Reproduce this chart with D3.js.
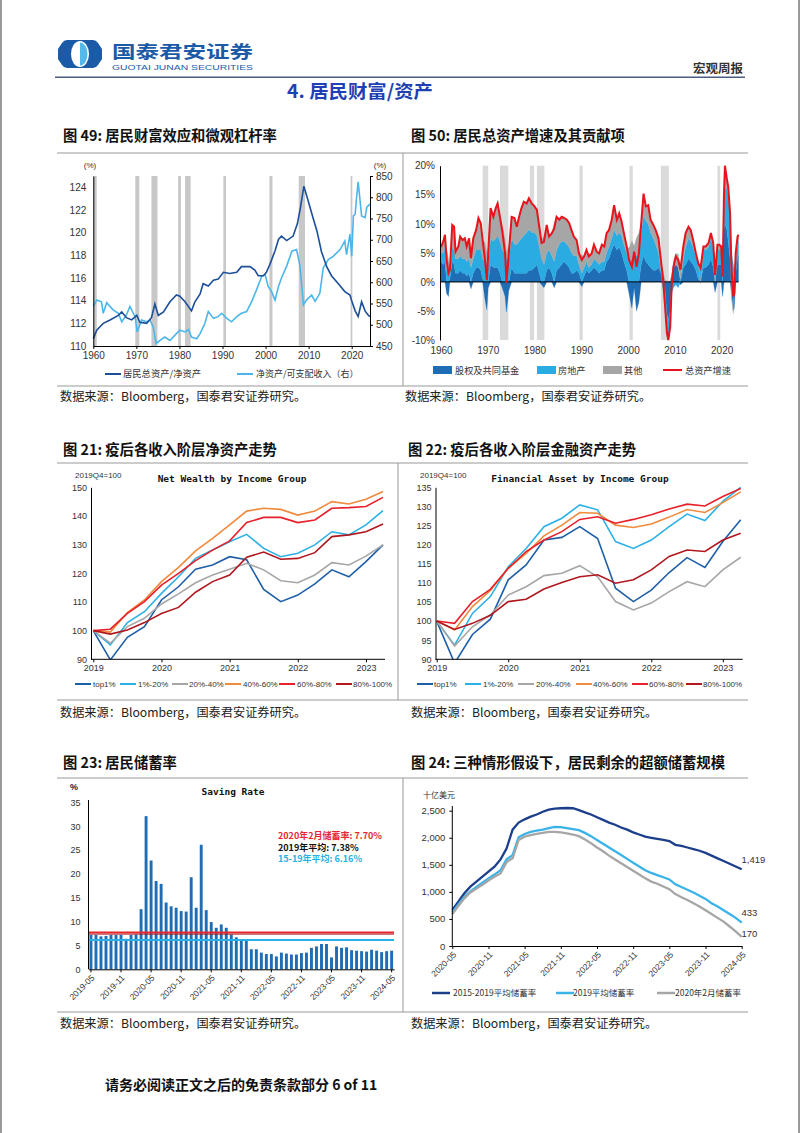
<!DOCTYPE html>
<html><head><meta charset="utf-8">
<script src="https://cdn.jsdelivr.net/npm/d3@7"></script>
<style>
body{margin:0;background:#fff;}
svg{display:block;}
</style></head><body>
<svg id="page" width="802" height="1133"></svg>
<script>
// ================= DATA =================
// Fig 49
const recess49 = [[1960.0,1960.8],[1969.75,1970.7],[1973.5,1974.9],[1979.7,1980.35],[1981.3,1982.6],[1990.2,1990.8],[2000.9,2001.6],[2007.7,2009.15],[2019.75,2020.15]];
const assetYears49 = [1960.0,1960.8,1962.3,1963.9,1965.8,1966.6,1967.7,1968.9,1970.1,1970.8,1972.4,1973.5,1974.3,1975.1,1976.3,1977.8,1979.3,1980.1,1981.3,1982.8,1983.6,1984.8,1985.5,1986.7,1987.9,1989.0,1990.2,1991.7,1993.3,1994.4,1996.4,1997.5,1998.3,1999.5,2000.2,2001.0,2002.2,2003.0,2003.7,2004.9,2006.4,2007.4,2008.1,2008.9,2009.9,2011.1,2011.9,2013.0,2014.2,2015.3,2016.9,2018.4,2019.6,2020.0,2020.8,2021.5,2022.3,2023.1,2023.9,2024.2];
const assetRatio49 = [110.65,111.4,112.0,112.3,112.7,113.0,112.5,112.3,112.7,112.1,112.0,112.5,113.7,112.7,113.0,113.9,114.5,114.4,113.9,113.1,113.9,114.6,115.5,115.3,115.8,115.9,116.5,116.4,116.5,117.0,117.0,116.7,116.2,116.2,116.5,117.2,118.4,119.4,119.7,119.3,119.7,120.8,122.2,124.1,122.8,121.2,120.2,118.3,117.0,116.2,115.5,114.8,114.5,114.0,113.1,112.6,113.9,113.1,112.7,112.6];
const incomeYears49 = [1960.0,1960.8,1961.9,1962.3,1963.1,1964.6,1965.8,1966.6,1967.7,1968.5,1969.7,1970.2,1971.2,1972.4,1973.2,1973.9,1974.6,1975.5,1976.6,1977.8,1979.3,1980.1,1981.3,1982.1,1982.8,1984.0,1984.8,1985.9,1986.7,1987.9,1989.0,1989.8,1991.0,1992.1,1993.3,1994.4,1995.6,1996.8,1997.9,1999.1,1999.9,2000.6,2001.4,2002.2,2003.0,2003.7,2004.9,2006.1,2007.2,2008.0,2008.8,2009.5,2010.7,2011.5,2012.6,2013.4,2014.6,2015.7,2017.3,2018.4,2018.8,2019.6,2020.0,2020.4,2020.8,2021.1,2021.5,2022.3,2023.1,2023.5,2024.2];
const wealthIncome49 = [543,558,554,527,552,535,527,507,523,543,519,483,511,507,511,495,456,463,471,463,479,487,483,489,471,467,479,503,531,515,519,527,515,507,519,527,531,555,582,614,618,590,578,558,590,610,638,673,677,638,547,558,570,555,574,634,654,661,677,697,665,713,661,756,760,796,836,756,752,776,784];
const ticksL49 = [110,112,114,116,118,120,122,124];
const ticksR49 = [450,500,550,600,650,700,750,800,850];
const ticksX49 = [1960,1970,1980,1990,2000,2010,2020];

// Fig 50
const recess50 = [[1968.9,1970.1],[1972.6,1974.4],[1979.0,1979.9],[1980.5,1982.1],[1989.6,1990.3],[2000.3,2001.0],[2007.0,2008.7],[2019.1,2019.7]];
const years50 = [1960.0,1960.5,1960.85,1961.2,1961.6,1961.9,1962.4,1962.8,1963.1,1963.7,
 1964.1,1964.6,1965.1,1965.5,1966.0,1966.4,1966.9,1967.5,1968.0,1968.5,
 1968.9,1969.4,1969.8,1970.1,1970.6,1971.2,1971.7,1972.1,1972.6,1973.1,
 1973.7,1974.0,1974.5,1975.1,1975.7,1976.2,1976.7,1977.2,1977.7,1978.3,
 1978.8,1979.4,1980.0,1980.5,1981.0,1981.5,1982.0,1982.6,1983.1,1983.7,
 1984.2,1984.7,1985.3,1985.8,1986.3,1986.9,1987.4,1987.9,1988.4,1989.0,
 1989.5,1990.1,1990.6,1991.1,1991.6,1992.2,1992.7,1993.3,1993.8,1994.4,
 1994.9,1995.4,1995.9,1996.5,1997.0,1997.6,1998.1,1998.6,1999.1,1999.7,
 2000.2,2000.8,2001.3,2001.8,2002.3,2002.8,2003.3,2003.8,2004.3,2004.8,
 2005.4,2005.9,2006.5,2007.0,2007.5,2007.9,2008.3,2008.6,2009.0,2009.3,
 2009.7,2010.2,2010.7,2011.2,2011.8,2012.3,2012.9,2013.4,2013.9,2014.5,
 2015.0,2015.5,2016.1,2016.6,2017.2,2017.7,2018.2,2018.6,2019.1,2019.5,
 2019.9,2020.2,2020.5,2020.7,2021.1,2021.4,2021.8,2022.1,2022.5,2022.7,
 2023.0,2023.4,2023.6];
const total50 = [6.0,7.0,8.1,3.8,1.5,2.1,9.8,9.5,5.2,6.1,
 7.8,7.2,7.5,6.1,7.5,4.1,7.5,8.9,11.0,10.1,
 7.2,3.8,0.3,4.9,12.7,11.2,12.7,13.5,11.2,8.7,
 4.9,-0.2,4.9,11.2,11.0,9.5,11.2,12.7,13.8,13.5,
 14.4,13.5,13.0,12.4,9.5,6.7,6.9,9.8,7.8,8.4,
 9.2,11.2,10.7,11.2,11.0,10.7,10.1,8.9,7.8,7.2,
 4.9,3.8,4.4,5.5,4.4,4.9,6.4,5.2,4.9,6.4,
 6.1,8.4,8.9,10.7,13.2,10.7,11.8,10.4,8.4,6.1,
 3.8,2.6,5.2,2.6,4.9,10.1,15.2,13.0,13.2,10.7,
 9.8,8.9,7.5,3.8,0.3,-4.2,-8.8,-10.0,-7.7,-0.8,
 2.6,4.4,3.8,2.1,6.1,8.4,9.5,8.9,7.2,4.9,
 3.2,2.4,6.1,6.1,6.7,8.4,6.7,1.2,6.4,6.4,
 6.1,0.9,15.2,20.0,17.8,16.4,11.8,2.1,-2.5,-2.0,
 4.9,7.8,8.1];
const equity50 = [3.5,3.0,3.5,-2.0,-2.5,0.5,3.5,3.0,1.5,1.5,
 2.0,1.5,1.5,1.0,1.5,-1.2,1.5,2.5,2.5,2.0,
 0.5,-3.0,-4.8,-1.0,3.0,2.5,2.5,2.5,1.5,-1.0,
 -2.5,-5.2,-1.5,2.5,1.5,1.5,1.5,1.5,1.5,1.5,
 2.0,2.0,2.5,3.0,1.5,-0.5,-1.0,2.0,2.5,1.5,
 -1.0,2.0,2.5,3.0,3.5,3.0,2.5,1.5,1.5,2.0,
 1.5,-0.8,1.0,2.0,1.5,2.0,2.5,2.0,1.5,2.0,
 2.0,3.5,4.0,5.5,6.5,5.5,6.0,5.0,3.5,2.0,
 -2.0,-4.5,-1.0,-5.0,-3.5,3.0,4.5,3.5,3.0,2.5,
 2.0,2.0,2.5,1.5,0.5,-1.5,-5.5,-6.5,-5.0,1.0,
 2.5,3.0,2.5,-0.5,2.5,3.0,4.0,3.5,3.0,2.0,
 0.5,0.2,2.5,2.5,3.0,4.0,2.5,-1.8,3.0,3.0,
 3.0,-2.5,9.0,10.0,9.0,7.0,4.0,-2.0,-5.0,-4.5,
 1.5,4.0,4.5];
const realEstate50 = [1.5,2.0,2.5,2.0,2.0,1.5,2.5,2.5,2.5,2.5,
 2.5,2.5,2.5,2.5,2.5,2.5,2.5,3.0,3.0,3.5,
 3.5,3.5,3.0,3.0,4.5,4.5,5.0,5.5,5.5,5.5,
 5.0,4.0,4.0,5.0,5.0,5.0,5.5,6.0,6.5,7.0,
 7.0,6.5,6.0,5.0,4.5,4.0,3.0,3.0,3.0,3.0,
 3.5,3.5,4.0,4.0,3.5,3.5,3.5,3.5,3.0,2.5,
 1.5,1.5,1.5,1.5,1.0,1.0,1.5,1.5,1.5,1.5,
 1.5,1.5,2.0,2.0,2.5,2.5,2.5,3.0,3.0,3.0,
 3.5,4.0,4.0,4.5,5.0,5.5,7.0,7.0,7.0,6.0,
 5.5,4.5,2.5,0.5,-1.5,-3.0,-3.5,-3.5,-3.0,-2.0,
 -1.0,-0.5,-1.0,0.5,1.5,3.0,3.5,3.5,3.0,2.5,
 2.5,2.5,3.0,3.0,3.0,3.5,3.5,3.0,2.5,2.5,
 2.5,2.5,4.0,6.0,7.0,8.0,7.0,5.0,3.0,2.0,
 2.0,2.5,2.5];
const ticksY50 = [-10,-5,0,5,10,15,20];
const ticksX50 = [1960,1970,1980,1990,2000,2010,2020];

// Fig 21 / 22 (quarterly, 2019Q4 = 100)
const groups = ['top1%','1%-20%','20%-40%','40%-60%','60%-80%','80%-100%'];
const yearTicksQ = ['2019','2020','2021','2022','2023'];
const nw_top1 = [100,89.8,97.7,101.4,110.7,115.3,121.4,122.9,125.8,124.7,114.4,110.1,112.4,116.3,121.2,118.8,124.1,129.9];
const nw_1_20 = [100,95.0,102.8,106.6,113.0,118.8,125.2,128.1,131.0,133.6,128.7,125.8,127.0,129.9,134.5,133.4,136.9,141.9];
const nw_20_40 = [100,95.6,101.4,104.3,109.3,112.8,116.7,119.4,121.4,123.5,121.2,117.4,116.7,119.4,123.7,122.9,126.0,129.9];
const nw_40_60 = [100,99.5,106.3,110.7,117.1,122.1,127.8,132.2,136.9,141.7,142.7,142.3,140.3,141.7,145.0,144.2,145.8,148.5];
const nw_60_80 = [100,100.5,106.0,110.1,115.9,120.0,124.4,128.1,131.3,137.7,139.5,139.5,137.7,138.6,142.7,142.9,143.3,146.5];
const nw_80_100 = [100,98.8,100.2,102.8,106.0,108.1,113.4,117.1,119.4,125.6,127.4,124.9,125.2,127.2,132.8,133.4,134.5,137.2];
const fa_top1 = [100,89.0,96.5,100.5,110.8,114.7,121.2,121.9,124.7,121.6,108.6,105.1,108.1,112.7,116.6,114.0,120.8,126.5];
const fa_1_20 = [100,93.7,102.0,106.4,114.2,119.0,124.7,126.9,130.4,129.1,120.8,119.0,121.2,124.7,128.0,126.3,131.3,135.0];
const fa_20_40 = [100,93.5,98.5,101.6,106.8,109.0,111.9,112.5,114.5,111.6,105.1,102.9,104.7,107.7,110.3,109.0,113.4,116.7];
const fa_40_60 = [100,97.7,103.8,108.0,113.8,117.7,122.3,125.1,128.4,128.2,125.1,124.5,125.4,127.2,129.2,128.4,131.0,133.8];
const fa_60_80 = [100,99.4,105.1,108.3,113.8,118.2,121.2,123.4,126.6,127.3,125.6,126.6,127.8,129.3,130.6,130.1,132.6,134.7];
const fa_80_100 = [100,97.8,99.4,101.5,105.1,105.7,108.4,110.1,111.6,112.1,109.9,110.8,113.4,116.9,118.6,118.2,121.2,123.0];

// Fig 23 saving rate, monthly 2019-05 .. 2024-05
const savingRate = [7.2,7.2,6.9,7.0,7.2,7.2,7.2,6.4,7.2,7.3,
 12.6,32.1,22.8,18.5,17.9,14.0,13.2,12.9,12.2,12.1,
 19.3,12.9,26.1,12.4,9.9,8.7,9.4,8.7,7.3,6.7,
 6.0,6.0,4.2,4.2,3.5,3.2,3.2,2.7,3.5,3.3,
 3.1,3.1,3.4,3.5,4.5,4.8,5.3,5.3,2.5,4.8,
 4.5,4.6,4.0,3.9,3.8,3.7,4.1,3.9,3.6,3.8,3.9];
const refLines23 = [7.70, 7.38, 6.16];
const refLabels23 = ['2020年2月储蓄率: 7.70%','2019年平均: 7.38%','15-19年平均: 6.16%'];

// Fig 24 excess savings (bn USD), monthly 2020-05 .. 2024-05
const ex_1519 = [665,819,973,1096,1188,1281,1373,1466,1600,1800,
 2150,2280,2340,2390,2430,2480,2520,2540,2545,2550,
 2545,2510,2470,2430,2380,2330,2280,2240,2190,2150,
 2100,2060,2020,2000,1980,1960,1940,1870,1850,1820,
 1790,1760,1720,1670,1620,1570,1520,1470,1419];
const ex_2019 = [620,770,910,1010,1090,1170,1250,1320,1400,1600,
 1680,2010,2070,2110,2130,2150,2180,2200,2195,2180,
 2160,2140,2090,2030,1960,1890,1820,1750,1680,1610,
 1540,1470,1400,1350,1310,1270,1230,1140,1090,1040,
 990,930,870,790,730,660,590,520,433];
const ex_202002 = [590,740,880,990,1060,1130,1210,1280,1340,1550,
 1620,1960,2020,2050,2070,2090,2110,2110,2100,2080,
 2060,2030,1970,1900,1820,1750,1670,1600,1530,1460,
 1390,1320,1250,1190,1150,1100,1050,960,900,850,
 790,730,660,590,520,450,360,270,170];
const endLabels24 = ['1,419','433','170'];

// ================= DRAWING =================
const FONT = '"Liberation Sans","Noto Sans CJK SC",sans-serif';
const CJK = '"Noto Sans CJK SC","Liberation Sans",sans-serif';
const MONO = '"DejaVu Sans Mono","Liberation Mono",monospace';
const svg = d3.select('#page');

function txt(g, x, y, s, o = {}) {
  const t = g.append('text').attr('x', x).attr('y', y).text(s)
    .attr('font-size', o.size || 10).attr('fill', o.fill || '#222')
    .attr('font-weight', o.weight || 'normal').attr('text-anchor', o.anchor || 'start')
    .attr('font-family', o.family || FONT);
  if (o.len) t.attr('textLength', o.len).attr('lengthAdjust', 'spacingAndGlyphs');
  if (o.ls) t.attr('letter-spacing', o.ls);
  return t;
}
function hline(g, x1, x2, y, c, w) { g.append('line').attr('x1', x1).attr('x2', x2).attr('y1', y).attr('y2', y).attr('stroke', c).attr('stroke-width', w || 1); }
function vline(g, x, y1, y2, c, w) { g.append('line').attr('x1', x).attr('x2', x).attr('y1', y1).attr('y2', y2).attr('stroke', c).attr('stroke-width', w || 1); }
function styleAxis(sel, size, color) {
  sel.attr('font-family', FONT).attr('font-size', size);
  sel.selectAll('text').attr('fill', color || '#333');
  sel.selectAll('path.domain').attr('stroke', '#000');
  sel.selectAll('.tick line').attr('stroke', '#000');
}

// ---- page frame & header ----
vline(svg, 1, 0, 1133, '#777', 1.5);
vline(svg, 799, 0, 1133, '#777', 1.5);
const logo = svg.append('g');
logo.append('path').attr('d', 'M67,40 H93 Q96,40 98,43 L102,49 V59 L98,65 Q96,68 93,68 H67 Q64,68 62,65 L58,59 V49 L62,43 Q64,40 67,40 Z').attr('fill', '#1b5aa7');
logo.append('ellipse').attr('cx', 80).attr('cy', 54).attr('rx', 9).attr('ry', 13).attr('fill', '#fff');
logo.append('path').attr('d', 'M80,42.5 A7.5,11.5 0 0,1 80,65.5 Z').attr('fill', '#55b8ea');
txt(svg, 112, 57.5, '国泰君安证券', { size: 17.5, weight: 700, fill: '#1b5aa7', family: CJK, len: 141 });
txt(svg, 112, 69.5, 'GUOTAI JUNAN SECURITIES', { size: 7.2, fill: '#1b5aa7', len: 141 });
txt(svg, 693, 73, '宏观周报', { size: 12, weight: 700, fill: '#333', family: CJK, len: 50 });
hline(svg, 55, 745, 77.3, '#4a5d85', 1.5);
txt(svg, 287, 98, '4.  居民财富/资产', { size: 18.5, weight: 700, fill: '#1f3fb5', family: CJK, len: 146 });

// ---- panel frames ----
[[153, 386], [463, 700], [778, 1012]].forEach(([a, b]) => { hline(svg, 57, 748, a, '#999'); hline(svg, 57, 748, b, '#999'); });
vline(svg, 403, 153, 386, '#999');
vline(svg, 398, 463, 700, '#999');
vline(svg, 403, 778, 1012, '#999');
const titles = [
  [63, 141, '图 49: 居民财富效应和微观杠杆率'], [411, 141, '图 50: 居民总资产增速及其贡献项'],
  [63, 455, '图 21: 疫后各收入阶层净资产走势'], [408, 455, '图 22: 疫后各收入阶层金融资产走势'],
  [63, 768, '图 23: 居民储蓄率'], [411, 768, '图 24: 三种情形假设下，居民剩余的超额储蓄规模']];
titles.forEach(([x, y, s]) => txt(svg, x, y, s, { size: 14.3, weight: 700, fill: '#111', family: CJK }));
const src = '数据来源：Bloomberg，国泰君安证券研究。';
[[60, 401], [405, 401], [60, 717], [411, 717], [60, 1028], [411, 1028]].forEach(([x, y]) => txt(svg, x, y, src, { size: 12.2, fill: '#222', family: CJK }));
txt(svg, 105, 1090, '请务必阅读正文之后的免责条款部分 6 of 11', { size: 14, weight: 700, fill: '#111', family: CJK });

// ================= Fig 49 =================
(function () {
  const g = svg.append('g');
  const x = d3.scaleLinear().domain([1960, 2024.25]).range([93.3, 370]);
  const yL = d3.scaleLinear().domain([110, 125]).range([346, 176]);
  const yR = d3.scaleLinear().domain([450, 850]).range([346, 176]);
  g.selectAll('rect.rec').data(recess49).join('rect').attr('class', 'rec')
    .attr('x', d => x(d[0])).attr('width', d => x(d[1]) - x(d[0]))
    .attr('y', 176).attr('height', 170).attr('fill', '#c8c8c8');
  g.append('path').attr('d', d3.line().x((d, i) => x(incomeYears49[i])).y(d => yR(d))(wealthIncome49))
    .attr('fill', 'none').attr('stroke', '#4cb6ea').attr('stroke-width', 1.6);
  g.append('path').attr('d', d3.line().x((d, i) => x(assetYears49[i])).y(d => yL(d))(assetRatio49))
    .attr('fill', 'none').attr('stroke', '#1c4f99').attr('stroke-width', 1.6);
  const ax = g.append('g').attr('transform', 'translate(0,346)').call(d3.axisBottom(x).tickValues(ticksX49).tickFormat(d3.format('d')).tickSize(3).tickPadding(3).tickSizeOuter(0));
  styleAxis(ax, 10, '#333');
  const al = g.append('g').attr('transform', 'translate(93.3,0)').call(d3.axisLeft(yL).tickValues(ticksL49).tickSize(0).tickPadding(7).tickSizeOuter(0));
  styleAxis(al, 10, '#333');
  const ar = g.append('g').attr('transform', 'translate(370,0)').call(d3.axisRight(yR).tickValues(ticksR49).tickSize(3).tickPadding(3).tickSizeOuter(0));
  styleAxis(ar, 10, '#333');
  txt(g, 90, 168, '(%)', { size: 8, anchor: 'middle', fill: '#333' });
  txt(g, 380, 168, '(%)', { size: 8, anchor: 'middle', fill: '#333' });
  hline(g, 105, 121, 374, '#1c4f99', 2);
  txt(g, 123, 377, '居民总资产/净资产', { size: 9.3, family: CJK, fill: '#333' });
  hline(g, 237, 253, 374, '#4cb6ea', 2);
  txt(g, 256, 377, '净资产/可支配收入（右）', { size: 9, family: CJK, fill: '#333' });
})();

// ================= Fig 50 =================
(function () {
  const g = svg.append('g');
  const x = d3.scaleLinear().domain([1960, 2023.6]).range([441, 738.5]);
  const y = d3.scaleLinear().domain([-10, 20]).range([340, 165.7]);
  g.selectAll('rect.rec').data(recess50).join('rect').attr('class', 'rec')
    .attr('x', d => x(d[0])).attr('width', d => x(d[1]) - x(d[0]))
    .attr('y', 165.7).attr('height', 340 - 165.7).attr('fill', '#dadada');
  const rows = years50.map((yr, i) => ({ year: yr, equity: equity50[i], realEstate: realEstate50[i], other: +(total50[i] - equity50[i] - realEstate50[i]).toFixed(2) }));
  const keys = ['equity', 'realEstate', 'other'];
  const colors = { equity: '#1f6db5', realEstate: '#2aace3', other: '#a6a6a6' };
  const stacked = d3.stack().keys(keys).offset(d3.stackOffsetDiverging)(rows);
  const area = d3.area().x(d => x(d.data.year)).y0(d => y(d[0])).y1(d => y(d[1]));
  g.selectAll('path.ar').data(stacked).join('path').attr('class', 'ar')
    .attr('d', area).attr('fill', d => colors[d.key]).attr('stroke', d => colors[d.key]).attr('stroke-width', 0.3);
  hline(g, 440, 738.5, y(0), '#000', 1);
  g.append('path').attr('d', d3.line().x((d, i) => x(years50[i])).y(d => y(d))(total50))
    .attr('fill', 'none').attr('stroke', '#e8141c').attr('stroke-width', 2);
  const al = g.append('g').attr('transform', 'translate(440,0)').call(d3.axisLeft(y).tickValues(ticksY50).tickFormat(d => d + '%').tickSize(0).tickPadding(5).tickSizeOuter(0));
  styleAxis(al, 10, '#333');
  const ax = g.append('g').attr('transform', 'translate(0,340)').call(d3.axisBottom(x).tickValues(ticksX50).tickFormat(d3.format('d')).tickSize(0).tickPadding(7));
  styleAxis(ax, 10, '#333');
  ax.select('path.domain').remove();
  const lg = [['equity', 433, '股权及共同基金', 455], ['realEstate', 537, '房地产', 558], ['other', 603, '其他', 624]];
  lg.forEach(([k, x0, s, tx]) => {
    g.append('rect').attr('x', x0).attr('y', 366).attr('width', 19).attr('height', 8).attr('fill', colors[k]);
    txt(g, tx, 373.5, s, { size: 9.2, family: CJK, fill: '#333' });
  });
  hline(g, 663, 682, 370, '#e8141c', 2);
  txt(g, 685, 373.5, '总资产增速', { size: 9.2, family: CJK, fill: '#333' });
})();

// ================= Fig 21 / 22 =================
const groupColors = ['#1f5fa8', '#2cb1e6', '#a6a6a6', '#f08a3c', '#e8202a', '#b0171f'];
function incomeChart(cfg) {
  const g = svg.append('g');
  const x = d3.scaleLinear().domain([0, 17]).range([cfg.x0, cfg.x1]);
  const y = d3.scaleLinear().domain(cfg.yDomain).range([659.3, 487.3]);
  const clipId = 'clip' + cfg.id;
  svg.append('clipPath').attr('id', clipId).append('rect').attr('x', cfg.axisX).attr('y', 480).attr('width', cfg.x1 - cfg.axisX + 5).attr('height', 659.3 - 480);
  const lines = g.append('g').attr('clip-path', `url(#${clipId})`);
  cfg.series.forEach((s, k) => {
    lines.append('path').attr('d', d3.line().x((d, i) => x(i)).y(d => y(d))(s))
      .attr('fill', 'none').attr('stroke', groupColors[k]).attr('stroke-width', 1.6);
  });
  const al = g.append('g').attr('transform', `translate(${cfg.axisX},0)`).call(d3.axisLeft(y).tickValues(cfg.yTicks).tickSize(0).tickPadding(4).tickSizeOuter(0));
  styleAxis(al, 9, '#333');
  const ax = g.append('g').attr('transform', 'translate(0,659.3)').call(d3.axisBottom(x).tickValues([0, 4, 8, 12, 16]).tickFormat((d, i) => yearTicksQ[i]).tickSize(3).tickPadding(2).tickSizeOuter(0));
  ax.select('path.domain').attr('d', `M${cfg.axisX},0H${cfg.x1 + 2}`);
  styleAxis(ax, 9, '#333');
  txt(g, cfg.baseX, 478, '2019Q4=100', { size: 8, fill: '#333' });
  txt(g, cfg.titleX, 482, cfg.title, { size: 9.5, weight: 700, family: MONO, anchor: 'middle', fill: '#111' });
  cfg.legend.forEach(([lx, tx], k) => {
    hline(g, lx, lx + 16, 684, groupColors[k], 2);
    txt(g, tx, 687, groups[k], { size: 8, fill: '#333' });
  });
}
incomeChart({ id: 21, x0: 93.3, x1: 383, axisX: 91, yDomain: [90, 150], yTicks: [90, 100, 110, 120, 130, 140, 150],
  series: [nw_top1, nw_1_20, nw_20_40, nw_40_60, nw_60_80, nw_80_100],
  baseX: 75, titleX: 232, title: 'Net Wealth by Income Group',
  legend: [[75, 93], [120, 138], [172, 189], [225, 243], [279, 297], [336, 353]] });
incomeChart({ id: 22, x0: 436.7, x1: 740.7, axisX: 435.5, yDomain: [90, 135], yTicks: [90, 95, 100, 105, 110, 115, 120, 125, 130, 135],
  series: [fa_top1, fa_1_20, fa_20_40, fa_40_60, fa_60_80, fa_80_100],
  baseX: 420, titleX: 580, title: 'Financial Asset by Income Group',
  legend: [[417, 434], [465, 483], [518, 536], [576, 593], [632, 649], [686, 703]] });

// ================= Fig 23 =================
(function () {
  const g = svg.append('g');
  const start = new Date(2019, 4, 1);
  const months = savingRate.map((d, i) => d3.timeFormat('%Y-%m')(d3.timeMonth.offset(start, i)));
  const x = d3.scaleBand().domain(months).range([88.5, 394.1]).paddingInner(0.42).paddingOuter(0.2);
  const y = d3.scaleLinear().domain([0, 35]).range([969.3, 802.3]);
  g.selectAll('rect.bar').data(savingRate).join('rect').attr('class', 'bar')
    .attr('x', (d, i) => x(months[i])).attr('width', x.bandwidth())
    .attr('y', d => y(d)).attr('height', d => y(0) - y(d)).attr('fill', '#1f6db5');
  hline(g, 88.5, 394, y(refLines23[1]), '#a3161b', 1);
  hline(g, 88.5, 394, y(refLines23[0]), '#e8262d', 2);
  hline(g, 88.5, 394, y(refLines23[2]), '#2ab0e4', 2);
  const al = g.append('g').attr('transform', 'translate(88.5,0)').call(d3.axisLeft(y).tickValues([0, 5, 10, 15, 20, 25, 30, 35]).tickSize(0).tickPadding(8).tickSizeOuter(0));
  styleAxis(al, 9, '#333');
  al.select('path.domain').attr('d', 'M0,800V969.3');
  const ax = g.append('g').attr('transform', 'translate(0,969.3)').call(d3.axisBottom(x).tickValues(months.filter((d, i) => i % 6 === 0)).tickSize(3).tickSizeOuter(0));
  styleAxis(ax, 8.5, '#333');
  ax.selectAll('.tick text').attr('x', 0).attr('y', 0).attr('dy', '0.35em').attr('text-anchor', 'end').attr('transform', 'translate(2,7) rotate(-45)');
  txt(g, 70, 790, '%', { size: 9, weight: 700, fill: '#222' });
  txt(g, 233, 795, 'Saving Rate', { size: 9.5, weight: 700, family: MONO, anchor: 'middle', fill: '#111' });
  const tc = ['#e8262d', '#111', '#2ab0e4'];
  [839, 850.5, 862].forEach((yy, k) => txt(g, 278, yy, refLabels23[k], { size: 9, weight: 700, family: CJK, fill: tc[k] }));
})();

// ================= Fig 24 =================
(function () {
  const g = svg.append('g');
  const x = d3.scaleLinear().domain([0, 48]).range([452.3, 741.7]);
  const y = d3.scaleLinear().domain([0, 2500]).range([946, 810.7]);
  const start = new Date(2020, 4, 1);
  const lbl = i => d3.timeFormat('%Y-%m')(d3.timeMonth.offset(start, i));
  const cols = ['#1c3f8c', '#3ab4e8', '#a6a6a6'];
  [ex_1519, ex_2019, ex_202002].forEach((s, k) => {
    g.append('path').attr('d', d3.line().x((d, i) => x(i)).y(d => y(d))(s))
      .attr('fill', 'none').attr('stroke', cols[k]).attr('stroke-width', 2.3);
  });
  const al = g.append('g').attr('transform', 'translate(452.3,0)').call(d3.axisLeft(y).tickValues([0, 500, 1000, 1500, 2000, 2500]).tickFormat(d3.format(',')).tickSize(3).tickPadding(4).tickSizeOuter(0));
  styleAxis(al, 9.5, '#333');
  al.select('path.domain').attr('d', 'M0,806V946');
  const ax = g.append('g').attr('transform', 'translate(0,946)').call(d3.axisBottom(x).tickValues(d3.range(0, 49, 6)).tickFormat(lbl).tickSize(3).tickSizeOuter(0));
  styleAxis(ax, 8.5, '#333');
  ax.selectAll('.tick text').attr('x', 0).attr('y', 0).attr('dy', '0.35em').attr('text-anchor', 'end').attr('transform', 'translate(2,7) rotate(-45)');
  txt(g, 423, 798, '十亿美元', { size: 8, family: CJK, fill: '#333' });
  const ends = [ex_1519, ex_2019, ex_202002];
  const offs = [-6, -7, 0];
  endLabels24.forEach((s, k) => txt(g, 741.5, y(ends[k][48]) + offs[k], s, { size: 9.5, fill: '#333' }));
  [[432, 453, '2015-2019平均储蓄率'], [556, 573, '2019平均储蓄率'], [657, 675, '2020年2月储蓄率']].forEach(([lx, tx, s], k) => {
    hline(g, lx, lx + 18, 993, cols[k], 2.5);
    txt(g, tx, 996, s, { size: 8.5, family: CJK, fill: '#333' });
  });
})();
</script>
</body></html>
